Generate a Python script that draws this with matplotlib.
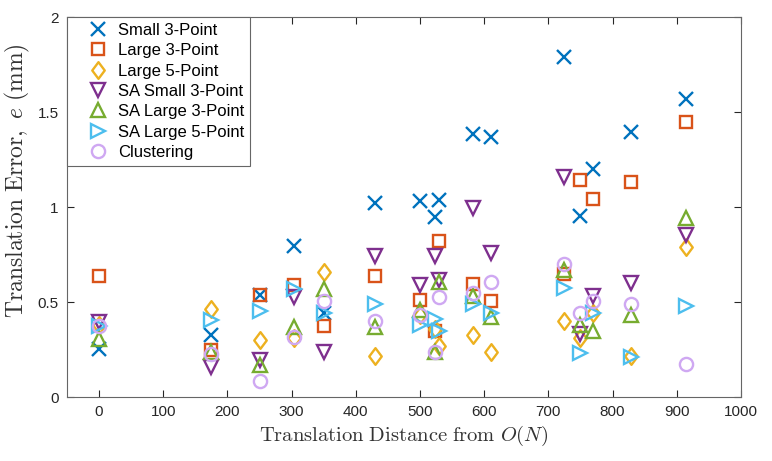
import matplotlib
matplotlib.use("Agg")
import matplotlib.pyplot as plt
from matplotlib.path import Path
import numpy as np

plt.rcParams['font.family'] = ['Liberation Sans', 'DejaVu Sans']
plt.rcParams['mathtext.fontset'] = 'cm'

distance = [0, 175, 250, 303, 350, 430, 500, 524, 530, 582, 611, 725, 750, 770, 828, 915]

small_3pt = [0.254, 0.325, 0.535, 0.795, 0.44, 1.02, 1.03, 0.947, 1.035, 1.383, 1.368, 1.79, 0.953, 1.20, 1.395, 1.57]
large_3pt = [0.637, 0.249, 0.535, 0.588, 0.372, 0.637, 0.509, 0.35, 0.82, 0.596, 0.505, 0.645, 1.142, 1.044, 1.13, 1.445]
large_5pt = [0.38, 0.465, 0.298, 0.31, 0.658, 0.214, 0.43, 0.36, 0.27, 0.325, 0.239, 0.40, 0.31, 0.44, 0.215, 0.79]
sa_small_3pt = [0.395, 0.158, 0.193, 0.526, 0.237, 0.74, 0.588, 0.74, 0.618, 0.996, 0.76, 1.158, 0.33, 0.53, 0.60, 0.855]
sa_large_3pt = [0.307, 0.237, 0.17, 0.368, 0.57, 0.368, 0.46, 0.237, 0.605, 0.53, 0.42, 0.67, 0.38, 0.347, 0.43, 0.944]
sa_large_5pt = [0.375, 0.404, 0.451, 0.57, 0.442, 0.49, 0.38, 0.41, 0.35, 0.49, 0.44, 0.575, 0.23, 0.44, 0.21, 0.477]
clustering = [0.372, 0.228, 0.082, 0.316, 0.505, 0.40, 0.43, 0.237, 0.526, 0.546, 0.605, 0.698, 0.444, 0.505, 0.49, 0.174]

labels = ['Small 3-Point', 'Large 3-Point', 'Large 5-Point', 'SA Small 3-Point',
          'SA Large 3-Point', 'SA Large 5-Point', 'Clustering']
series = [small_3pt, large_3pt, large_5pt, sa_small_3pt, sa_large_3pt, sa_large_5pt, clustering]
colors = ['#0072BD', '#D95319', '#EDB120', '#7E2F8E', '#77AC30', '#4DBEEE', '#CFA8F2']

diamond = Path([(0, 1), (0.75, 0), (0, -1), (-0.75, 0), (0, 1)],
               [Path.MOVETO, Path.LINETO, Path.LINETO, Path.LINETO, Path.CLOSEPOLY])
markers = ['x', 's', diamond, 'v', '^', '>', 'o']
sizes = [9.8, 8.2, 12, 10.5, 10.5, 10.5, 9.5]

fig = plt.figure(figsize=(7.72, 4.61), dpi=100)
ax = fig.add_axes([0.0868, 0.1388, 0.873, 0.8243])

for vals, lab, c, m, s in zip(series, labels, colors, markers, sizes):
    ax.plot(distance, vals, linestyle='none', marker=m, markersize=s,
            markerfacecolor='none', markeredgecolor=c, markeredgewidth=1.7,
            label=lab)

ax.set_xlim(-50, 1000)
ax.set_ylim(0, 2)
ax.set_xticks(np.arange(0, 1001, 100))
ax.set_yticks([0, 0.5, 1, 1.5, 2])
ax.set_yticklabels(['0', '0.5', '1', '1.5', '2'])
ax.tick_params(direction='in', top=True, right=True, length=5, width=0.8,
               labelsize=11, colors='#262626', pad=6)
for sp in ax.spines.values():
    sp.set_color('#666666')
    sp.set_linewidth(0.8)

ax.set_xlabel(r'$\mathrm{Translation\ Distance\ from\ }O(N)$', fontsize=14.8, color='#333333', labelpad=3)
ax.set_ylabel(r'$\mathrm{Translation\ Error,\ }e\ \mathrm{(mm)}$', fontsize=17, color='#333333')
ax.yaxis.set_label_coords(-0.052, 0.57)

leg = ax.legend(loc='upper left', bbox_to_anchor=(0, 1), borderaxespad=0,
                fontsize=12, frameon=True, fancybox=False, framealpha=1,
                edgecolor='#666666', handlelength=3.0, handletextpad=-0.3,
                labelspacing=0.32, borderpad=0.35)
leg.get_frame().set_linewidth(0.8)

fig.savefig('out.png', dpi=100)
